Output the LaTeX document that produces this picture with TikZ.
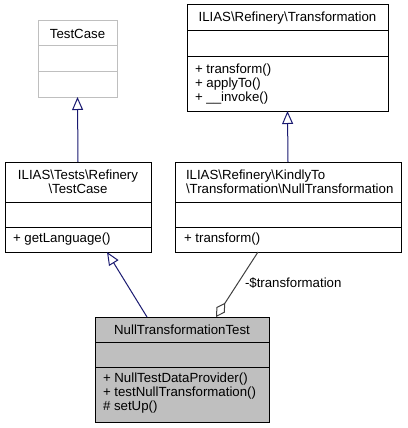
\documentclass[tikz,border=0pt]{standalone}
\usepackage{fontspec}
\setmainfont{Liberation Sans}
\usetikzlibrary{arrows.meta,calc}
\definecolor{edgeblue}{HTML}{191970}
\definecolor{boxgray}{HTML}{BFBFBF}
\definecolor{agggray}{HTML}{404040}
\begin{document}
\begin{tikzpicture}[x=1pt,y=-1pt,
  every node/.style={font=\fontsize{13.25}{14}\selectfont, inner sep=0pt, outer sep=0pt},
  umlbox/.style={draw=black, line width=1pt, rectangle, anchor=north west, inner sep=0pt, outer sep=0pt},
  extbox/.style={umlbox, draw=boxgray},
  sepline/.style={line width=1pt},
  inherit/.style={draw=edgeblue, line width=1pt, -{Triangle[open, length=13pt, width=11pt]}},
  agg/.style={draw=agggray, line width=1pt, -{Diamond[open, length=17pt, width=10pt]}},
  lbl/.style={anchor=west}]
\useasboundingbox (0,0) rectangle (407,428);

% TestCase (external)
\node[extbox, minimum width=79pt, minimum height=76pt] (tc) at (38,21) {};
\draw[sepline, draw=boxgray] (38,46) -- (117,46);
\draw[sepline, draw=boxgray] (38,71) -- (117,71);
\node (tcT) at (77.5,33.5) {TestCase};

% ILIAS\Tests\Refinery\TestCase
\node[umlbox, minimum width=146pt, minimum height=90pt] (tsl) at (5,162) {};
\draw[sepline] (5,202) -- (151,202);
\draw[sepline] (5,227) -- (151,227);
\node[align=center] (tslT) at (78,182) {ILIAS\textbackslash Tests\textbackslash Refinery\\\textbackslash TestCase};
\node[lbl] (tslM) at (13,239.5) {+ getLanguage()};

% ILIAS\Refinery\Transformation
\node[umlbox, minimum width=201pt, minimum height=106pt] (tr) at (187,5) {};
\draw[sepline] (187,31) -- (388,31);
\draw[sepline] (187,57) -- (388,57);
\node (trT) at (287.5,18) {ILIAS\textbackslash Refinery\textbackslash Transformation};
\node[lbl, align=left] (trM) at (195,84) {+ transform()\\+ applyTo()\\+ \_\_invoke()};

% ILIAS\Refinery\KindlyTo\Transformation\NullTransformation
\node[umlbox, minimum width=226pt, minimum height=90pt] (ntr) at (175,162) {};
\draw[sepline] (175,202) -- (401,202);
\draw[sepline] (175,227) -- (401,227);
\node[lbl, align=left] (ntrT) at (186,182) {ILIAS\textbackslash Refinery\textbackslash KindlyTo\\\textbackslash Transformation\textbackslash NullTransformation};
\node[lbl] (ntrM) at (184,239.5) {+ transform()};

% NullTransformationTest
\node[umlbox, fill=boxgray, minimum width=174pt, minimum height=105pt] (ntt) at (95,317) {};
\draw[sepline] (95,342) -- (269,342);
\draw[sepline] (95,367) -- (269,367);
\node (nttT) at (182,329.5) {NullTransformationTest};
\node[lbl, align=left] (nttM) at (103,393) {+ NullTestDataProvider()\\+ testNullTransformation()\\\# setUp()};

% edges
\draw[inherit] (tsl.north) -- (tc.south);
\draw[inherit] (ntr.north) -- (tr.south);
\draw[inherit] ($(ntt.north west)+(52,0)$) -- ($(tsl.south west)+(102,0)$);
\draw[agg] ($(ntr.south west)+(83,0)$) -- ($(ntt.north west)+(121,0)$);
\node[lbl] (aggL) at (245,283) {-\$transformation};
\end{tikzpicture}
\end{document}
